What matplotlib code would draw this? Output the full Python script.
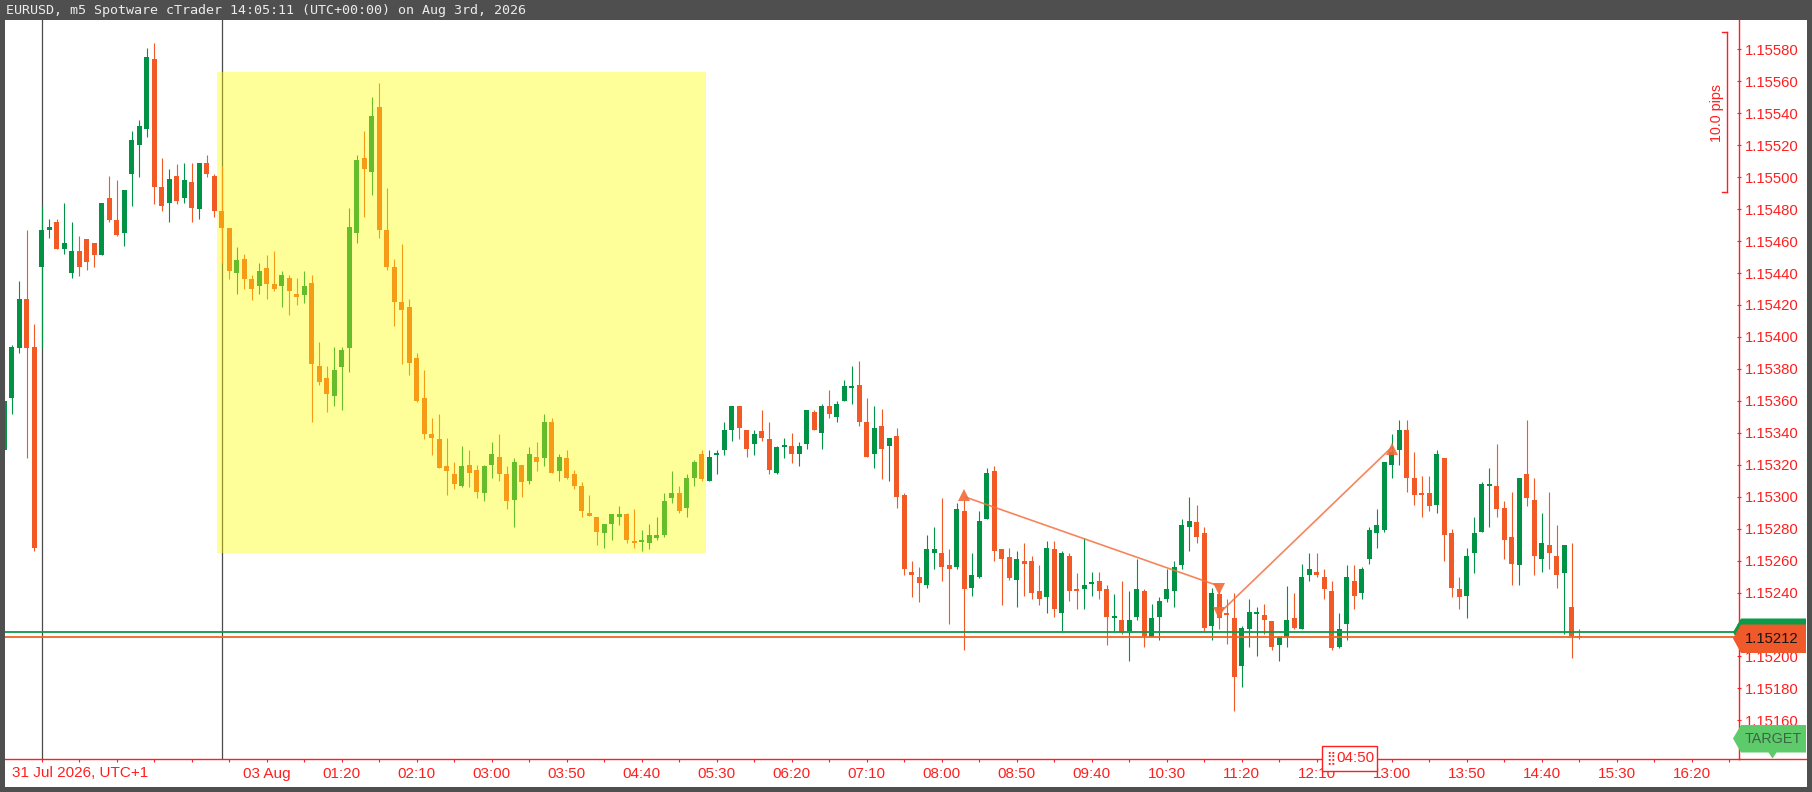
import matplotlib
matplotlib.use("Agg")
import matplotlib.pyplot as plt
from matplotlib import font_manager as fm
from matplotlib.patches import Rectangle, Polygon
from matplotlib.lines import Line2D
import numpy as np

# ---------------- data (EURUSD m5 candles) ----------------
opens = [
1.15329,1.15362,1.15393,1.15424,1.15394,1.15444,1.15467,1.15472,1.15455,1.15440,
1.15454,1.15461,1.15459,1.15451,1.15487,1.15473,1.15465,1.15502,1.15520,1.15530,
1.15574,1.15494,1.15484,1.15501,1.15487,1.15497,1.15480,1.15509,1.15501,1.15479,
1.15468,1.15440,1.15449,1.15436,1.15432,1.15443,1.15433,1.15432,1.15437,1.15427,
1.15426,1.15434,1.15382,1.15374,1.15363,1.15381,1.15393,1.15465,1.15512,1.15503,
1.15544,1.15467,1.15444,1.15422,1.15419,1.15387,1.15362,1.15339,1.15336,1.15319,
1.15314,1.15307,1.15320,1.15317,1.15302,1.15320,1.15325,1.15314,1.15298,1.15320,
1.15310,1.15325,1.15324,1.15347,1.15316,1.15324,1.15314,1.15307,1.15290,1.15287,
1.15277,1.15283,1.15287,1.15289,1.15272,1.15272,1.15271,1.15274,1.15276,1.15299,
1.15302,1.15293,1.15312,1.15327,1.15310,1.15326,1.15329,1.15342,1.15357,1.15342,
1.15333,1.15341,1.15336,1.15315,1.15331,1.15332,1.15327,1.15333,1.15353,1.15340,
1.15357,1.15350,1.15360,1.15368,1.15370,1.15347,1.15327,1.15344,1.15332,1.15338,
1.15301,1.15253,1.15250,1.15245,1.15265,1.15265,1.15257,1.15256,1.15291,1.15243,
1.15250,1.15286,1.15316,1.15267,1.15262,1.15248,1.15260,1.15260,1.15241,1.15237,
1.15267,1.15227,1.15263,1.15242,1.15242,1.15246,1.15247,1.15242,1.15224,1.15223,
1.15216,1.15225,1.15241,1.15212,1.15225,1.15236,1.15241,1.15257,1.15281,1.15284,
1.15277,1.15219,1.15239,1.15227,1.15224,1.15194,1.15217,1.15227,1.15226,1.15222,
1.15207,1.15212,1.15224,1.15217,1.15251,1.15253,1.15250,1.15241,1.15206,1.15220,
1.15247,1.15240,1.15261,1.15277,1.15279,1.15320,1.15329,1.15342,1.15312,1.15302,
1.15302,1.15295,1.15324,1.15277,1.15242,1.15238,1.15265,1.15278,1.15307,1.15307,
1.15293,1.15275,1.15257,1.15314,1.15298,1.15261,1.15270,1.15263,1.15252,1.15231,
1.15213]
highs = [
1.15386,1.15395,1.15435,1.15467,1.15408,1.15482,1.15474,1.15474,1.15484,1.15472,
1.15463,1.15461,1.15459,1.15484,1.15501,1.15498,1.15492,1.15529,1.15536,1.15581,
1.15584,1.15512,1.15505,1.15508,1.15509,1.15509,1.15509,1.15514,1.15502,1.15507,
1.15468,1.15456,1.15452,1.15439,1.15446,1.15451,1.15454,1.15441,1.15439,1.15437,
1.15441,1.15439,1.15397,1.15382,1.15394,1.15394,1.15481,1.15514,1.15529,1.15550,
1.15559,1.15493,1.15449,1.15458,1.15424,1.15390,1.15379,1.15349,1.15352,1.15337,
1.15322,1.15332,1.15329,1.15320,1.15320,1.15334,1.15339,1.15319,1.15324,1.15320,
1.15331,1.15334,1.15352,1.15349,1.15327,1.15329,1.15317,1.15309,1.15301,1.15287,
1.15283,1.15289,1.15294,1.15290,1.15292,1.15279,1.15283,1.15287,1.15302,1.15316,
1.15307,1.15314,1.15323,1.15329,1.15329,1.15329,1.15347,1.15357,1.15357,1.15342,
1.15342,1.15354,1.15347,1.15332,1.15337,1.15340,1.15334,1.15354,1.15354,1.15358,
1.15367,1.15360,1.15373,1.15382,1.15385,1.15362,1.15357,1.15355,1.15337,1.15343,
1.15302,1.15260,1.15256,1.15276,1.15281,1.15299,1.15267,1.15296,1.15298,1.15265,
1.15291,1.15318,1.15319,1.15267,1.15268,1.15266,1.15271,1.15263,1.15257,1.15272,
1.15272,1.15266,1.15265,1.15252,1.15274,1.15253,1.15253,1.15245,1.15239,1.15247,
1.15241,1.15261,1.15242,1.15233,1.15237,1.15255,1.15260,1.15286,1.15300,1.15295,
1.15281,1.15243,1.15242,1.15236,1.15240,1.15219,1.15236,1.15231,1.15233,1.15222,
1.15212,1.15244,1.15240,1.15258,1.15265,1.15265,1.15255,1.15247,1.15227,1.15257,
1.15257,1.15256,1.15281,1.15292,1.15322,1.15339,1.15348,1.15348,1.15328,1.15313,
1.15313,1.15329,1.15324,1.15280,1.15250,1.15268,1.15287,1.15309,1.15318,1.15333,
1.15297,1.15303,1.15312,1.15348,1.15312,1.15290,1.15303,1.15282,1.15270,1.15271,
1.15217]
lows = [
1.15328,1.15352,1.15390,1.15324,1.15266,1.15393,1.15462,1.15455,1.15452,1.15437,
1.15438,1.15442,1.15444,1.15451,1.15472,1.15463,1.15457,1.15482,1.15500,1.15525,
1.15483,1.15479,1.15472,1.15483,1.15484,1.15472,1.15474,1.15500,1.15475,1.15446,
1.15436,1.15427,1.15430,1.15423,1.15427,1.15424,1.15429,1.15419,1.15414,1.15420,
1.15421,1.15347,1.15370,1.15353,1.15357,1.15354,1.15378,1.15459,1.15475,1.15489,
1.15462,1.15442,1.15407,1.15383,1.15376,1.15359,1.15336,1.15326,1.15318,1.15301,
1.15305,1.15306,1.15306,1.15299,1.15297,1.15312,1.15310,1.15292,1.15281,1.15300,
1.15308,1.15316,1.15319,1.15315,1.15310,1.15311,1.15305,1.15287,1.15288,1.15270,
1.15268,1.15273,1.15282,1.15271,1.15268,1.15266,1.15267,1.15273,1.15275,1.15296,
1.15290,1.15287,1.15307,1.15310,1.15310,1.15314,1.15326,1.15335,1.15336,1.15325,
1.15326,1.15335,1.15314,1.15314,1.15324,1.15321,1.15319,1.15330,1.15342,1.15330,
1.15349,1.15347,1.15360,1.15358,1.15344,1.15325,1.15318,1.15311,1.15310,1.15293,
1.15251,1.15237,1.15234,1.15243,1.15255,1.15247,1.15220,1.15255,1.15204,1.15238,
1.15249,1.15286,1.15260,1.15232,1.15248,1.15231,1.15238,1.15236,1.15232,1.15227,
1.15225,1.15216,1.15235,1.15230,1.15230,1.15238,1.15236,1.15207,1.15216,1.15214,
1.15197,1.15223,1.15206,1.15212,1.15210,1.15234,1.15231,1.15255,1.15266,1.15271,
1.15216,1.15210,1.15217,1.15208,1.15166,1.15181,1.15206,1.15200,1.15214,1.15204,
1.15197,1.15206,1.15217,1.15217,1.15247,1.15250,1.15236,1.15204,1.15205,1.15210,
1.15230,1.15236,1.15258,1.15268,1.15278,1.15312,1.15320,1.15303,1.15295,1.15287,
1.15291,1.15290,1.15260,1.15237,1.15230,1.15224,1.15252,1.15278,1.15281,1.15287,
1.15261,1.15245,1.15245,1.15294,1.15251,1.15253,1.15255,1.15243,1.15214,1.15199,
1.15211]
closes = [
1.15360,1.15394,1.15424,1.15393,1.15268,1.15467,1.15469,1.15455,1.15459,1.15454,
1.15444,1.15447,1.15451,1.15484,1.15473,1.15464,1.15492,1.15523,1.15532,1.15575,
1.15494,1.15482,1.15499,1.15485,1.15498,1.15481,1.15509,1.15502,1.15479,1.15468,
1.15441,1.15448,1.15436,1.15430,1.15441,1.15433,1.15430,1.15439,1.15429,1.15425,
1.15432,1.15383,1.15372,1.15364,1.15379,1.15392,1.15469,1.15511,1.15505,1.15538,
1.15467,1.15444,1.15422,1.15417,1.15384,1.15360,1.15339,1.15337,1.15318,1.15316,
1.15308,1.15319,1.15315,1.15303,1.15319,1.15327,1.15314,1.15297,1.15322,1.15309,
1.15327,1.15322,1.15347,1.15315,1.15325,1.15312,1.15307,1.15291,1.15288,1.15278,
1.15283,1.15289,1.15289,1.15273,1.15271,1.15272,1.15276,1.15276,1.15297,1.15302,
1.15291,1.15312,1.15322,1.15311,1.15325,1.15327,1.15342,1.15357,1.15343,1.15330,
1.15339,1.15337,1.15317,1.15331,1.15332,1.15327,1.15332,1.15354,1.15342,1.15357,
1.15352,1.15358,1.15369,1.15369,1.15347,1.15325,1.15343,1.15330,1.15337,1.15300,
1.15255,1.15251,1.15246,1.15267,1.15267,1.15256,1.15255,1.15292,1.15242,1.15251,
1.15285,1.15315,1.15266,1.15261,1.15249,1.15261,1.15258,1.15240,1.15236,1.15268,
1.15230,1.15265,1.15241,1.15241,1.15245,1.15246,1.15241,1.15225,1.15225,1.15215,
1.15223,1.15242,1.15213,1.15224,1.15235,1.15242,1.15256,1.15282,1.15285,1.15275,
1.15218,1.15240,1.15224,1.15226,1.15187,1.15218,1.15228,1.15227,1.15223,1.15206,
1.15212,1.15223,1.15218,1.15250,1.15255,1.15251,1.15242,1.15205,1.15217,1.15250,
1.15238,1.15255,1.15279,1.15282,1.15322,1.15328,1.15342,1.15312,1.15301,1.15301,
1.15294,1.15327,1.15276,1.15243,1.15237,1.15263,1.15277,1.15308,1.15308,1.15292,
1.15273,1.15258,1.15312,1.15299,1.15263,1.15271,1.15265,1.15251,1.15270,1.15213,
1.15212]

# time axis labels (bar number -> text)
label_bars = [35, 45, 55, 65, 75, 85, 95, 105, 115, 125, 135, 145, 155, 165, 175,
              185, 195, 205, 215, 225]
label_texts = ["03 Aug", "01:20", "02:10", "03:00", "03:50", "04:40", "05:30", "06:20",
               "07:10", "08:00", "08:50", "09:40", "10:30", "11:20", "12:10", "13:00",
               "13:50", "14:40", "15:30", "16:20"]
first_date_label = "31 Jul 2026, UTC+1"
separator_bars = [5, 29]

bid_price = 1.15212
ask_price = 1.15215

# user rectangle (bars / prices)
rect_bars = (28.4, 93.53)
rect_prices = (1.152646, 1.155659)

# deal map: (bar, price) pairs
trade1 = [(128, 1.15300), (162, 1.15244)]
trade2 = [(162, 1.15227), (185, 1.15331)]
up_marks = [(128, 1.15301), (185, 1.15330)]
down_marks = [(162, 1.15242), (162, 1.15227)]

title = "EURUSD, m5 Spotware cTrader 14:05:11 (UTC+00:00) on Aug 3rd, 2026"

# ---------------- styling ----------------
W, H, DPI = 1812, 792, 100
FRAME = "#4f4f4f"
RED_AX = "#ff1f1f"
GREEN = "#009245"
RED = "#f15a24"


def has_font(name):
    try:
        fm.findfont(fm.FontProperties(family=name), fallback_to_default=False)
        return True
    except Exception:
        return False


if has_font("Liberation Sans Narrow"):
    NARROW, NSIZE = "Liberation Sans Narrow", 12.5
else:
    NARROW, NSIZE = "Liberation Sans", 11.0
SANS = "Liberation Sans" if has_font("Liberation Sans") else "DejaVu Sans"


def fx(px):
    return px / W


def fy(py):
    return 1 - py / H


fig = plt.figure(figsize=(W / DPI, H / DPI), dpi=DPI, facecolor="white")

AX_L, AX_R, AX_T, AX_B = 5, 1739, 20, 759
ax = fig.add_axes([fx(AX_L), fy(AX_B), (AX_R - AX_L) / W, (AX_B - AX_T) / H])
ax.set_facecolor("white")

o = np.array(opens)
h = np.array(highs)
l = np.array(lows)
c = np.array(closes)
x = np.arange(len(o))
up = c >= o
cols = np.where(up, GREEN, RED)

ax.set_xlim(0.107, 231.29)
ax.set_ylim(1.151358, 1.155984)

# separators
for b in separator_bars:
    ax.axvline(b, color="#4a4a4a", lw=0.9, zorder=2)

# candles
ax.vlines(x, l, h, colors=cols, linewidth=0.8, zorder=3)
minh = 0.000012
diff = np.abs(c - o)
mid = (o + c) / 2
bh = np.maximum(diff, minh)
bb = np.where(diff < minh, mid - minh / 2, np.minimum(o, c))
ax.bar(x, bh, bottom=bb, width=0.68, color=cols, linewidth=0, zorder=4)

# translucent yellow rectangle
ax.add_patch(Rectangle((rect_bars[0], rect_prices[0]), rect_bars[1] - rect_bars[0],
                       rect_prices[1] - rect_prices[0], facecolor="#ffff00",
                       alpha=0.4, edgecolor="none", zorder=5))

# bid / ask
ax.axhline(ask_price, color="#0a9a4a", lw=1.3, zorder=6)
ax.axhline(bid_price, color="#f26522", lw=1.3, zorder=6)

# deals
TCOL = "#f4703f"
for tr in (trade1, trade2):
    ax.plot([p[0] for p in tr], [p[1] for p in tr], color=TCOL, lw=1.2, alpha=0.85,
            zorder=7, solid_capstyle="butt")
for b, p in up_marks:
    ax.plot(b, p, marker="^", ms=8, color="#f26a3a", alpha=0.9, ls="none", zorder=8,
            markeredgewidth=0)
for b, p in down_marks:
    ax.plot(b, p, marker="v", ms=8, color="#f26a3a", alpha=0.9, ls="none", zorder=8,
            markeredgewidth=0)

# axes styling
for s in ("top", "left"):
    ax.spines[s].set_visible(False)
for s in ("right", "bottom"):
    ax.spines[s].set_color(RED_AX)
    ax.spines[s].set_linewidth(1.0)

ax.yaxis.tick_right()
yt = np.round(np.arange(1.15160, 1.155801, 0.0002), 5)
ax.set_yticks(yt)
ax.set_yticklabels([f"{v:.5f}" for v in yt], fontsize=10.7, color=RED_AX, family=SANS)
ax.tick_params(axis="y", direction="inout", length=3, width=0.8, colors=RED_AX, pad=2.8)

xt = list(range(5, 231, 5))
lab_map = dict(zip(label_bars, label_texts))
ax.set_xticks(xt)
ax.set_xticklabels([lab_map.get(t, "") for t in xt], fontsize=NSIZE, color=RED_AX,
                   family=NARROW)
ax.tick_params(axis="x", direction="out", length=2.2, width=0.8, colors=RED_AX, pad=3.6)

fig.text(fx(11.7), fy(773), first_date_label, fontsize=NSIZE, color=RED_AX,
         family=NARROW, ha="left", va="center")

# bottom axis line extension to the right
fig.add_artist(Line2D([fx(AX_R), fx(1807)], [fy(AX_B), fy(AX_B)], color=RED_AX, lw=1.0))

# 10.0 pips ruler
for seg in ([(1727, 32.3), (1727, 192.3)], [(1721.5, 32.3), (1727, 32.3)],
            [(1721.5, 192.3), (1727, 192.3)]):
    fig.add_artist(Line2D([fx(seg[0][0]), fx(seg[1][0])], [fy(seg[0][1]), fy(seg[1][1])],
                          color=RED_AX, lw=1.0))
fig.text(fx(1716.5), fy(112.5), "10.0 pips", rotation=90, fontsize=10.3, color=RED_AX,
         family=SANS, ha="center", va="center")


def poly(pts, color, z=20):
    pg = Polygon([(fx(a), fy(b)) for a, b in pts], closed=True, facecolor=color,
                 edgecolor="none", transform=fig.transFigure, zorder=z)
    fig.add_artist(pg)


# ask / bid tags
poly([(1733, 632.3), (1741, 618.5), (1806, 618.5), (1806, 646), (1741, 646)], "#0a9a4a", 20)
poly([(1733, 638.5), (1741, 624.5), (1806, 624.5), (1806, 653), (1741, 653)], "#f0592a", 21)
fig.text(fx(1745), fy(639), f"{bid_price:.5f}", fontsize=10.7, color="#141414",
         family=SANS, ha="left", va="center", zorder=22)

# TARGET tag
poly([(1733, 738.5), (1741, 725), (1806, 725), (1806, 752.5), (1776.5, 752.5),
      (1772.5, 758.5), (1768.5, 752.5), (1741, 752.5)], "#5ecb6b", 20)
fig.text(fx(1745), fy(739), "TARGET", fontsize=10.4, color="#3a6644", family=SANS,
         ha="left", va="center", zorder=22)

# countdown box
box = Rectangle((fx(1322), fy(770.5)), (1377 - 1322) / W, 24.8 / H,
                transform=fig.transFigure, facecolor="white", edgecolor=RED_AX,
                lw=1.0, zorder=20)
fig.add_artist(box)
fig.text(fx(1330.5), fy(758), "\u28ff", fontsize=9, color=RED_AX, family="DejaVu Sans",
         ha="center", va="center", zorder=22)
fig.text(fx(1336.5), fy(758.5), "04:50", fontsize=NSIZE, color=RED_AX, family=NARROW,
         ha="left", va="center", zorder=22)

# frame & title bar
for rx, ry, rw, rh in ((0, 0, W, 20), (0, 0, 4.6, H), (1807, 0, 5, H), (0, 787, W, 5)):
    fig.add_artist(Rectangle((fx(rx), fy(ry + rh)), rw / W, rh / H,
                             transform=fig.transFigure, facecolor=FRAME,
                             edgecolor="none", zorder=30))
fig.text(fx(5.7), fy(10.5), title, fontsize=9.6, color="#ececec",
         family="DejaVu Sans Mono", ha="left", va="center", zorder=31)

fig.savefig("out.png", dpi=DPI, facecolor="white")
